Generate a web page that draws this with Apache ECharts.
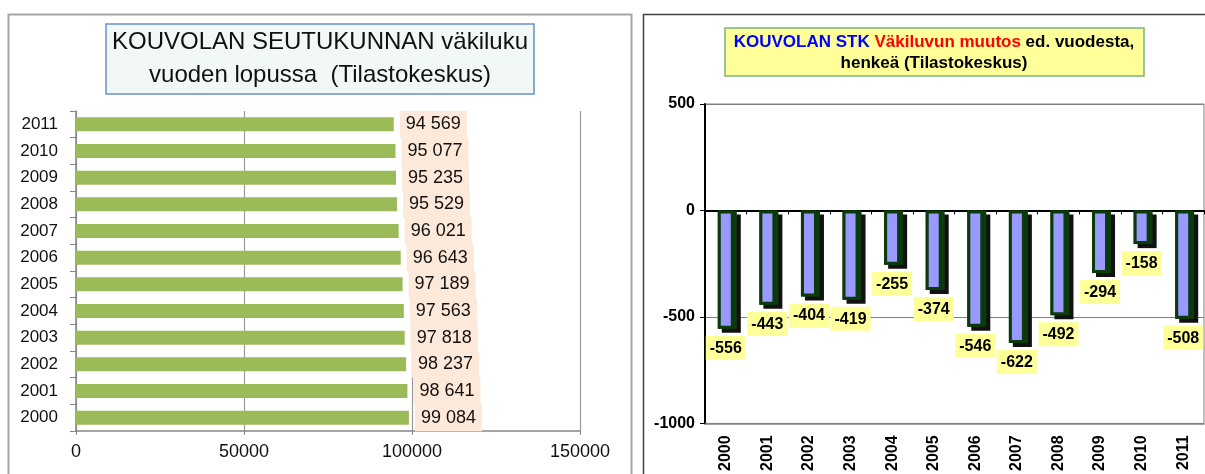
<!DOCTYPE html>
<html>
<head>
<meta charset="utf-8">
<script src="https://cdn.jsdelivr.net/npm/echarts@6/dist/echarts.min.js"></script>
<style>
  html, body { margin: 0; padding: 0; background: #fff; }
  #chart { width: 1205px; height: 474px; }
</style>
</head>
<body>
<div id="chart"></div>
<script>
// population at year end (left chart)
var years = ['2000', '2001', '2002', '2003', '2004', '2005', '2006', '2007', '2008', '2009', '2010', '2011'];
var population = [99084, 98641, 98237, 97818, 97563, 97189, 96643, 96021, 95529, 95235, 95077, 94569];
// change from previous year (right chart)
var change = [-556, -443, -404, -419, -255, -374, -546, -622, -492, -294, -158, -508];
var popTicks = [0, 50000, 100000, 150000];
var changeTicks = [-1000, -500, 0, 500];

var chart = echarts.init(document.getElementById('chart'));

function spaced (v) {
  return String(v).replace(/\B(?=(\d{3})+(?!\d))/g, ' ');
}
function plain (v) {
  return String(v);
}

var sans = '"Liberation Sans", Arial, sans-serif';

var option = {
  backgroundColor: '#fff',
  animation: false,
  graphic: [
    // panel frames
    { type: 'rect', z: -10, shape: { x: 8.5, y: 14.5, width: 623, height: 480 },
      style: { fill: 'none', stroke: '#a6a6a6', lineWidth: 2 } },
    { type: 'rect', z: -10, shape: { x: 643.5, y: 14.5, width: 600, height: 480 },
      style: { fill: 'none', stroke: '#404040', lineWidth: 1.5 } },
    // left title box
    { type: 'rect', shape: { x: 106, y: 24, width: 428, height: 70 },
      style: { fill: '#f1f8f6', stroke: '#6a8fc9', lineWidth: 1.5 } },
    { type: 'text', x: 320, y: 42,
      style: { text: 'KOUVOLAN SEUTUKUNNAN väkiluku', font: '24px ' + sans, fill: '#111',
        align: 'center', verticalAlign: 'middle', textAlign: 'center', textVerticalAlign: 'middle' } },
    { type: 'text', x: 320, y: 75,
      style: { text: 'vuoden lopussa  (Tilastokeskus)', font: '24px ' + sans, fill: '#111',
        align: 'center', verticalAlign: 'middle', textAlign: 'center', textVerticalAlign: 'middle' } },
    // right title box
    { type: 'rect', shape: { x: 725, y: 28, width: 419, height: 48 },
      style: { fill: '#ffff99', stroke: '#7fb17f', lineWidth: 1.5 } },
    { type: 'text', x: 934, y: 42,
      style: {
        text: '{b|KOUVOLAN STK} {r|Väkiluvun muutos} {k|ed. vuodesta,}',
        font: 'bold 17px ' + sans,
        align: 'center', verticalAlign: 'middle', textAlign: 'center', textVerticalAlign: 'middle',
        rich: {
          b: { fill: '#0000ff', color: '#0000ff', font: 'bold 17px ' + sans },
          r: { fill: '#ff0000', color: '#ff0000', font: 'bold 17px ' + sans },
          k: { fill: '#000', color: '#000', font: 'bold 17px ' + sans }
        }
      } },
    { type: 'text', x: 934, y: 63,
      style: { text: 'henkeä (Tilastokeskus)', font: 'bold 17px ' + sans, fill: '#000',
        align: 'center', verticalAlign: 'middle', textAlign: 'center', textVerticalAlign: 'middle' } }
  ],
  grid: [
    { left: 76, top: 111, width: 504, height: 320, containLabel: false },
    { left: 705, top: 104, width: 499, height: 324, containLabel: false,
      show: true, borderColor: '#808080', borderWidth: 1, backgroundColor: 'transparent' }
  ],
  xAxis: [
    {
      gridIndex: 0, type: 'value', min: popTicks[0], max: popTicks[popTicks.length - 1],
      interval: popTicks[1] - popTicks[0],
      axisLine: { show: true, lineStyle: { color: '#868686', width: 1.5 } },
      axisTick: { show: true, length: 4, lineStyle: { color: '#868686' } },
      axisLabel: { fontFamily: sans, fontSize: 18, color: '#111', margin: 12, formatter: plain },
      splitLine: { show: true, lineStyle: { color: '#9a9a9a', width: 1.2 } }
    },
    {
      gridIndex: 1, type: 'category', data: years, position: 'bottom',
      axisLine: { onZero: false, lineStyle: { color: '#808080', width: 1.5 } },
      axisTick: { show: false },
      axisLabel: { rotate: 90, fontFamily: sans, fontWeight: 'bold', fontSize: 16, color: '#000', margin: 12 },
      splitLine: { show: false }
    },
    {
      gridIndex: 1, type: 'category', data: years, position: 'top',
      axisLine: { onZero: true, lineStyle: { color: '#000', width: 2 } },
      axisTick: { show: true, inside: true, length: 4, lineStyle: { color: '#000' } },
      axisLabel: { show: false },
      splitLine: { show: false }
    }
  ],
  yAxis: [
    {
      gridIndex: 0, type: 'category', data: years,
      axisLine: { show: true, lineStyle: { color: '#868686', width: 1.5 } },
      axisTick: { show: true, length: 6, lineStyle: { color: '#868686' } },
      axisLabel: { fontFamily: sans, fontSize: 17, color: '#111', margin: 18 },
      splitLine: { show: false }
    },
    {
      gridIndex: 1, type: 'value', min: changeTicks[0], max: changeTicks[changeTicks.length - 1],
      interval: changeTicks[1] - changeTicks[0],
      axisLine: { show: true, lineStyle: { color: '#000', width: 2 } },
      axisTick: { show: true, length: 5, lineStyle: { color: '#000' } },
      axisLabel: { fontFamily: sans, fontWeight: 'bold', fontSize: 16, color: '#000', margin: 10, formatter: plain },
      splitLine: { show: true, lineStyle: { color: '#808080', width: 1.2 } }
    }
  ],
  series: [
    {
      type: 'bar', xAxisIndex: 0, yAxisIndex: 0, data: population, barWidth: 14,
      itemStyle: { color: '#9bbb59' },
      label: {
        show: true, position: 'right', distance: 6,
        formatter: function (p) { return spaced(p.value); },
        fontFamily: sans, fontSize: 18, color: '#111',
        backgroundColor: '#fde9d9', padding: [5, 6, 4, 6], lineHeight: 18
      }
    },
    // dark drop shadow behind the change bars
    {
      type: 'bar', xAxisIndex: 1, yAxisIndex: 1, data: change, barWidth: 19,
      itemStyle: {
        color: '#0b3a0b',
        shadowColor: '#111', shadowOffsetX: 4, shadowOffsetY: 4, shadowBlur: 0
      },
      silent: true
    },
    {
      type: 'bar', xAxisIndex: 1, yAxisIndex: 1, data: change, barWidth: 16, barGap: '-100%',
      itemStyle: { color: '#9999ff', borderColor: '#0b3a0b', borderWidth: 3 },
      label: {
        show: true, position: 'outside', distance: 7,
        fontFamily: sans, fontWeight: 'bold', fontSize: 16, color: '#000',
        backgroundColor: '#ffff99', padding: [4, 4, 3, 4], lineHeight: 17
      }
    }
  ]
};

chart.setOption(option);
</script>
</body>
</html>
